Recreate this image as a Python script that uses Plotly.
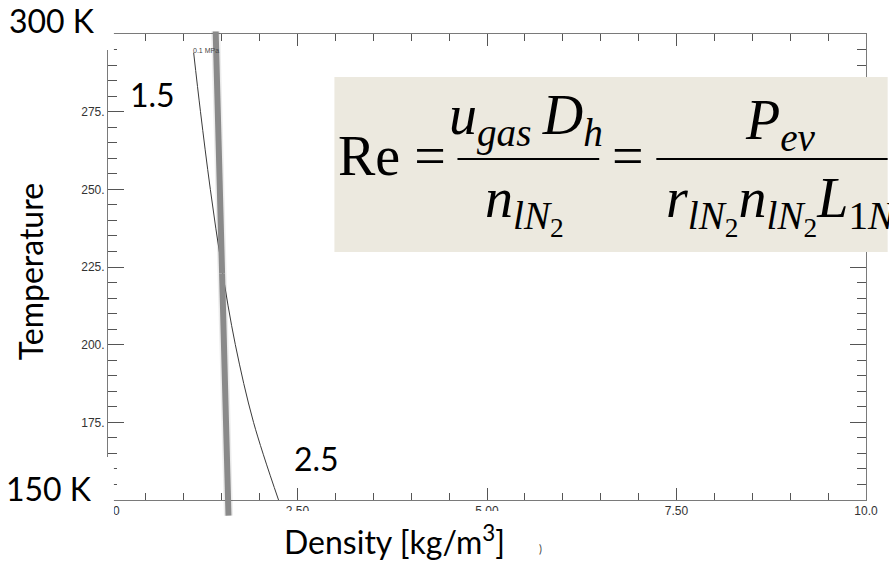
import plotly.graph_objects as go

# Nitrogen gas density along the 0.1 MPa isobar
iso_T = [294, 275, 250, 225, 200, 175, 150]
iso_rho = [1.13, 1.22, 1.35, 1.50, 1.68, 1.92, 2.25]

# Thick reference line (end points: density, temperature)
ref_rho = [1.42, 1.59]
ref_T = [301.3, 144.5]

# Axis ticks
x_ticks = [0, 2.5, 5, 7.5, 10]
x_ticktext = ["0.00", "2.50", "5.00", "7.50", "10.0"]
y_ticks = [150, 175, 200, 225, 250, 275, 300]
y_ticktext = ["", "175.", "200.", "225.", "250.", "275.", ""]

W, H = 889, 565
L, R, T, B = 108, 878, 34, 500  # plot area in pixels


def px(x):
    return (x - L) / (R - L)


def py(y):
    return (B - y) / (B - T)


fig = go.Figure()

fig.add_trace(go.Scatter(
    x=iso_rho, y=iso_T, mode="lines",
    line=dict(color="#3a3a3a", width=1, shape="spline"),
    hoverinfo="skip", showlegend=False,
))

axis_common = dict(
    showgrid=False, zeroline=False, showline=True, linecolor="#7a7a7a",
    linewidth=1, mirror="ticks", ticks="inside", tickcolor="#555555",
    ticklabeloverflow="allow",
    tickfont=dict(family="Liberation Sans", size=12, color="#333333"),
)

fig.update_xaxes(
    range=[0, 10], tickmode="array", tickvals=x_ticks, ticktext=x_ticktext,
    ticklen=12, minor=dict(dtick=0.5, tick0=0, ticklen=7, ticks="inside",
                           tickcolor="#555555"),
    **axis_common,
)
fig.update_yaxes(
    range=[150, 300], tickmode="array", tickvals=y_ticks, ticktext=y_ticktext,
    ticklen=16, minor=dict(dtick=5, tick0=150, ticklen=9, ticks="inside",
                           tickcolor="#555555"),
    **axis_common,
)

shapes = []
# white label boxes over the frame corners
shapes.append(dict(type="rect", xref="paper", yref="paper", layer="above",
                   x0=px(0), x1=px(114), y0=py(50), y1=py(0),
                   fillcolor="white", line=dict(width=0)))
shapes.append(dict(type="rect", xref="paper", yref="paper", layer="above",
                   x0=px(0), x1=px(114), y0=py(522), y1=py(457),
                   fillcolor="white", line=dict(width=0)))
shapes.append(dict(type="rect", xref="paper", yref="paper", layer="above",
                   x0=px(240), x1=px(540), y0=py(565), y1=py(511),
                   fillcolor="white", line=dict(width=0)))
# equation panel
shapes.append(dict(type="rect", xref="paper", yref="paper", layer="above",
                   x0=px(338), x1=px(900), y0=py(252), y1=py(77),
                   fillcolor="#ECE9DF", line=dict(width=0)))
# fraction bars
shapes.append(dict(type="line", xref="paper", yref="paper", layer="above",
                   x0=px(463), x1=px(607), y0=py(159), y1=py(159),
                   line=dict(color="black", width=2)))
shapes.append(dict(type="line", xref="paper", yref="paper", layer="above",
                   x0=px(665), x1=px(900), y0=py(159), y1=py(159),
                   line=dict(color="black", width=2)))
fig.update_layout(shapes=shapes)

ann = []
# thick reference line: two halves meeting at its midpoint, so each arrow
# head sits inside the frame while the ends run past the axes
mid_rho = (ref_rho[0] + ref_rho[1]) / 2
mid_T = (ref_T[0] + ref_T[1]) / 2
for width, colour in [(9, "rgba(0,0,0,0.07)"), (6, "#8a8a8a")]:
    for end_rho, end_T in zip(ref_rho, ref_T):
        ann.append(dict(x=mid_rho, y=mid_T, ax=end_rho, ay=end_T,
                        xref="x", yref="y", axref="x", ayref="y", text="",
                        showarrow=True, arrowhead=0, arrowwidth=width,
                        arrowcolor=colour, standoff=0, startstandoff=0))

sans = "Lato"
serif = "Liberation Serif"


def label(text, x, y, size, family=sans, color="black", xanchor="center",
          yanchor="middle", angle=0):
    ann.append(dict(text=text, x=px(x), y=py(y), xref="paper", yref="paper",
                    showarrow=False, xanchor=xanchor, yanchor=yanchor,
                    textangle=angle, font=dict(family=family, size=size,
                                               color=color)))


label("0.1 MPa", 208, 51, 7, family="Liberation Sans", color="#444444")
label("300 K", 51, 20, 32)
label("150 K", 48, 488, 32)
label("1.5", 153, 94, 32)
label("2.5", 320, 458, 32)
label("Temperature", 29, 272, 32, angle=-90)
label("Density [kg/m<sup>3</sup>]", 399, 540, 32)
label(")", 547, 548, 11, color="#444444")

# Reynolds number expression
eq = 56
label("Re =", 396, 156, eq, family=serif)
label("<i>u</i><sub><i>gas</i></sub>\u2009<i>D</i><sub><i>h</i></sub>",
      533, 120, eq, family=serif)
label("<i>n</i><sub><i>lN</i><sub>2</sub></sub>", 531, 205, eq, family=serif)
label("=", 636, 156, eq, family=serif)
label("<i>P</i><sub><i>ev</i></sub>", 791, 124, eq, family=serif)
label("<i>r</i><sub><i>lN</i><sub>2</sub></sub><i>n</i><sub><i>lN</i><sub>2</sub></sub>"
      "<i>L</i><sub>1<i>N</i></sub>", 673, 205, eq, family=serif,
      xanchor="left")

fig.update_layout(
    annotations=ann,
    width=W, height=H, autosize=False,
    margin=dict(l=L, r=W - R, t=T, b=H - B, pad=0),
    paper_bgcolor="white", plot_bgcolor="white",
)

fig.write_html("out.html")
